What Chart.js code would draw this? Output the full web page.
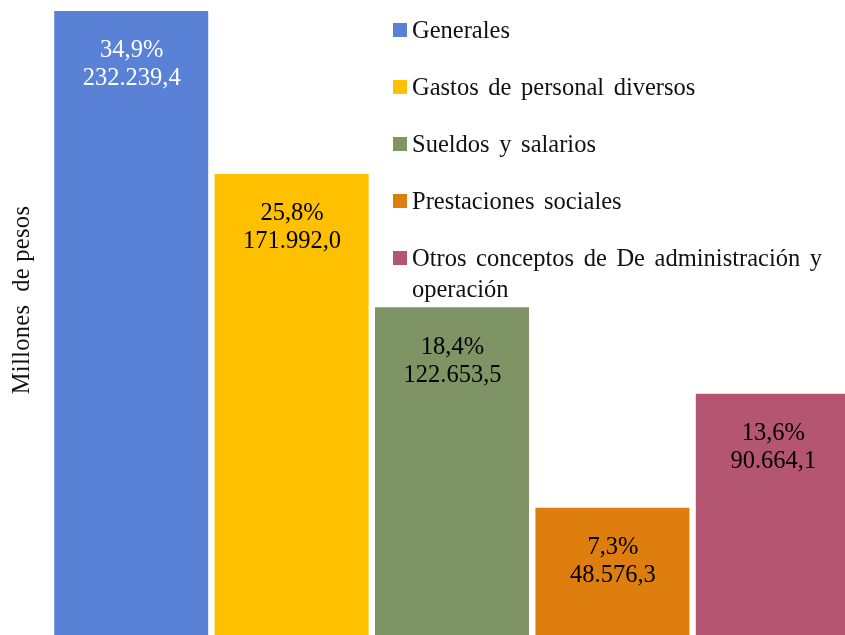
<!DOCTYPE html>
<html>
<head>
<meta charset="utf-8">
<script src="https://cdn.jsdelivr.net/npm/chart.js@4"></script>
<style>
	html, body { margin: 0; padding: 0; background: #fff; overflow: hidden; }
	#wrap { position: relative; width: 845px; height: 635px; overflow: hidden; }
	#box { position: absolute; left: 0; top: 0; width: 856px; height: 640px; }
	#legend {
		position: absolute; left: 393px; top: 14px; width: 450px;
		font-family: "Liberation Serif", "Times New Roman", serif;
		font-size: 24.5px; word-spacing: 3.5px; color: #111;
	}
	.item { display: flex; align-items: flex-start; line-height: 31px; margin-bottom: 26px; }
	.sw { flex: 0 0 14px; width: 14px; height: 14px; margin-top: 9px; margin-right: 5px; }
</style>
</head>
<body>
<div id="wrap">
	<div id="box"><canvas id="gastosChart"></canvas></div>
	<div id="legend"></div>
</div>
<script>
// datos (millones de pesos)
const categorias = [
	"Generales",
	"Gastos de personal diversos",
	"Sueldos y salarios",
	"Prestaciones sociales",
	"Otros conceptos de De administración y operación",
];
const valores = [232239.4, 171992.0, 122653.5, 48576.3, 90664.1];
const porcentajes = [34.9, 25.8, 18.4, 7.3, 13.6];
const colores = ["#5982d6", "#ffc000", "#7e9464", "#dd7e0e", "#b45573"];
const coloresTexto = ["#ffffff", "#000000", "#000000", "#000000", "#000000"];

function formatoEs(n) {
	const partes = n.toFixed(1).split(".");
	const entero = partes[0].replace(/\B(?=(\d{3})+(?!\d))/g, ".");
	return entero + "," + partes[1];
}

// etiquetas dentro de las barras
const etiquetas = {
	id: "etiquetas",
	afterDatasetsDraw(chart) {
		const ctx = chart.ctx;
		const meta = chart.getDatasetMeta(0);
		ctx.save();
		ctx.font = "24.5px 'Liberation Serif', 'Times New Roman', serif";
		ctx.textAlign = "center";
		ctx.textBaseline = "middle";
		meta.data.forEach((bar, i) => {
			ctx.fillStyle = coloresTexto[i];
			ctx.fillText(porcentajes[i].toFixed(1).replace(".", ",") + "%", bar.x + 0.5, bar.y + 40);
			ctx.fillText(formatoEs(valores[i]), bar.x + 0.5, bar.y + 68);
		});
		ctx.restore();
	},
};

// titulo del eje vertical
const tituloEje = {
	id: "tituloEje",
	afterDraw(chart) {
		const ctx = chart.ctx;
		ctx.save();
		ctx.translate(23, 300);
		ctx.rotate(-Math.PI / 2);
		ctx.font = "24.5px 'Liberation Serif', 'Times New Roman', serif";
		ctx.letterSpacing = "0.3px";
		ctx.fillStyle = "#111";
		ctx.textAlign = "center";
		ctx.textBaseline = "middle";
		ctx.fillText("Millones  de pesos", 0, 0);
		ctx.restore();
	},
};

const ctx = document.getElementById("gastosChart");
const chart = new Chart(ctx, {
	type: "bar",
	data: {
		labels: categorias,
		datasets: [
			{
				label: "Millones de pesos",
				data: valores,
				backgroundColor: colores,
				borderWidth: 0,
				categoryPercentage: 1,
				barPercentage: 0.96,
			},
		],
	},
	options: {
		responsive: true,
		maintainAspectRatio: false,
		animation: false,
		layout: { padding: { left: 51, right: 3, top: 11, bottom: 1 } },
		plugins: {
			legend: { display: false },
			tooltip: { enabled: false },
		},
		scales: {
			x: { display: false },
			y: { display: false, min: 0, max: Math.max(...valores) },
		},
	},
	plugins: [etiquetas, tituloEje],
});

// leyenda html a partir de los datos del grafico
const legend = document.getElementById("legend");
chart.data.labels.forEach((lab, i) => {
	const item = document.createElement("div");
	item.className = "item";
	item.innerHTML = `<span class="sw" style="background:${colores[i]}"></span><span>${lab}</span>`;
	legend.appendChild(item);
});
</script>
</body>
</html>
